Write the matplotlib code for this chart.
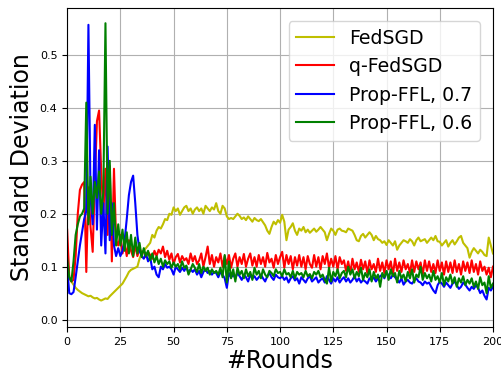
import numpy as np
import matplotlib
matplotlib.use("Agg")
import matplotlib.pyplot as plt

# values, one per round (0..200)
fedsgd = [
    0.090, 0.080, 0.072, 0.066, 0.060, 0.056, 0.053, 0.050, 0.048, 0.046,
    0.044, 0.045, 0.042, 0.040, 0.041, 0.038, 0.036, 0.038, 0.040, 0.039,
    0.044, 0.048, 0.052, 0.056, 0.060, 0.064, 0.068, 0.075, 0.082, 0.090,
    0.094, 0.096, 0.098, 0.100, 0.115, 0.125, 0.130, 0.135, 0.140, 0.145,
    0.160, 0.155, 0.168, 0.175, 0.172, 0.180, 0.190, 0.188, 0.200, 0.198,
    0.212, 0.205, 0.210, 0.198, 0.205, 0.212, 0.215, 0.205, 0.210, 0.200,
    0.208, 0.212, 0.205, 0.210, 0.200, 0.215, 0.210, 0.205, 0.212, 0.208,
    0.220, 0.205, 0.200, 0.215, 0.210, 0.195, 0.190, 0.192, 0.190, 0.195,
    0.200, 0.196, 0.190, 0.193, 0.188, 0.195, 0.190, 0.185, 0.192, 0.188,
    0.186, 0.190, 0.184, 0.178, 0.168, 0.162, 0.175, 0.185, 0.180, 0.188,
    0.183, 0.198, 0.185, 0.150, 0.170, 0.175, 0.182, 0.168, 0.160, 0.172,
    0.168, 0.175, 0.165, 0.170, 0.164, 0.168, 0.172, 0.166, 0.170, 0.175,
    0.170, 0.165, 0.150, 0.162, 0.172, 0.168, 0.160, 0.170, 0.172, 0.168,
    0.167, 0.165, 0.172, 0.170, 0.168, 0.160, 0.150, 0.148, 0.158, 0.162,
    0.155, 0.160, 0.165, 0.160, 0.150, 0.158, 0.152, 0.150, 0.145, 0.148,
    0.141, 0.150, 0.145, 0.140, 0.148, 0.132, 0.140, 0.145, 0.150, 0.148,
    0.145, 0.152, 0.148, 0.140, 0.150, 0.155, 0.148, 0.150, 0.152, 0.145,
    0.150, 0.155, 0.150, 0.158, 0.148, 0.147, 0.140, 0.145, 0.150, 0.138,
    0.145, 0.150, 0.142, 0.148, 0.155, 0.158, 0.145, 0.140, 0.135, 0.117,
    0.128, 0.135, 0.130, 0.125, 0.132, 0.128, 0.122, 0.120, 0.155, 0.140,
    0.125,
]

qfedsgd = [
    0.170, 0.080, 0.072, 0.075, 0.120, 0.200, 0.245, 0.255, 0.260, 0.090,
    0.250, 0.175, 0.128, 0.260, 0.375, 0.395, 0.280, 0.200, 0.285, 0.160,
    0.290, 0.110, 0.285, 0.150, 0.140, 0.160, 0.125, 0.145, 0.120, 0.150,
    0.130, 0.118, 0.140, 0.120, 0.135, 0.125, 0.130, 0.118, 0.128, 0.122,
    0.115, 0.130, 0.120, 0.132, 0.125, 0.138, 0.118, 0.130, 0.113, 0.125,
    0.105, 0.118, 0.124, 0.108, 0.120, 0.112, 0.116, 0.105, 0.125, 0.110,
    0.120, 0.105, 0.112, 0.125, 0.100, 0.118, 0.138, 0.105, 0.122, 0.100,
    0.118, 0.108, 0.125, 0.100, 0.120, 0.105, 0.122, 0.098, 0.115, 0.125,
    0.100, 0.118, 0.105, 0.124, 0.100, 0.115, 0.125, 0.102, 0.118, 0.100,
    0.122, 0.105, 0.118, 0.100, 0.126, 0.108, 0.115, 0.098, 0.122, 0.105,
    0.118, 0.128, 0.098, 0.122, 0.105, 0.120, 0.095, 0.118, 0.102, 0.122,
    0.100, 0.118, 0.095, 0.120, 0.105, 0.098, 0.122, 0.100, 0.118, 0.095,
    0.120, 0.105, 0.125, 0.098, 0.115, 0.100, 0.120, 0.095, 0.118, 0.105,
    0.112, 0.092, 0.110, 0.088, 0.115, 0.095, 0.108, 0.090, 0.113, 0.095,
    0.110, 0.088, 0.112, 0.095, 0.105, 0.090, 0.115, 0.092, 0.108, 0.088,
    0.112, 0.095, 0.110, 0.085, 0.115, 0.092, 0.108, 0.090, 0.112, 0.095,
    0.105, 0.088, 0.112, 0.090, 0.110, 0.095, 0.108, 0.085, 0.112, 0.092,
    0.110, 0.090, 0.105, 0.088, 0.112, 0.092, 0.108, 0.085, 0.110, 0.090,
    0.108, 0.088, 0.112, 0.090, 0.105, 0.085, 0.110, 0.092, 0.108, 0.088,
    0.112, 0.090, 0.105, 0.085, 0.110, 0.092, 0.100, 0.085, 0.098, 0.080,
    0.100,
]

prop_07 = [
    0.100, 0.050, 0.048, 0.052, 0.080, 0.110, 0.140, 0.165, 0.190, 0.205,
    0.557, 0.230, 0.180, 0.368, 0.170, 0.320, 0.140, 0.220, 0.125, 0.327,
    0.150, 0.220, 0.140, 0.120, 0.135, 0.120, 0.130, 0.150, 0.190, 0.235,
    0.260, 0.272, 0.220, 0.160, 0.130, 0.120, 0.115, 0.125, 0.110, 0.118,
    0.095, 0.100, 0.085, 0.080, 0.100, 0.095, 0.105, 0.098, 0.100, 0.095,
    0.085, 0.100, 0.095, 0.090, 0.098, 0.092, 0.100, 0.088, 0.095, 0.090,
    0.095, 0.085, 0.092, 0.080, 0.090, 0.095, 0.088, 0.092, 0.085, 0.090,
    0.088, 0.080, 0.090, 0.085, 0.078, 0.060, 0.088, 0.080, 0.085, 0.078,
    0.088, 0.082, 0.075, 0.085, 0.080, 0.072, 0.085, 0.078, 0.082, 0.075,
    0.080, 0.085, 0.078, 0.072, 0.082, 0.088, 0.080, 0.075, 0.085, 0.080,
    0.078, 0.082, 0.075, 0.080, 0.070, 0.078, 0.082, 0.074, 0.078, 0.068,
    0.080, 0.075, 0.070, 0.078, 0.082, 0.072, 0.076, 0.080, 0.070, 0.075,
    0.078, 0.070, 0.082, 0.075, 0.068, 0.078, 0.072, 0.080, 0.070, 0.076,
    0.080, 0.072, 0.078, 0.070, 0.075, 0.082, 0.072, 0.078, 0.070, 0.075,
    0.072, 0.068, 0.078, 0.075, 0.080, 0.072, 0.078, 0.082, 0.085, 0.078,
    0.090, 0.082, 0.078, 0.085, 0.080, 0.075, 0.070, 0.078, 0.066, 0.072,
    0.075, 0.070, 0.068, 0.074, 0.078, 0.072, 0.070, 0.065, 0.072, 0.068,
    0.070, 0.062, 0.055, 0.050, 0.065, 0.072, 0.068, 0.062, 0.070, 0.065,
    0.060, 0.068, 0.072, 0.065, 0.058, 0.062, 0.070, 0.066, 0.060, 0.055,
    0.062, 0.058, 0.065, 0.060, 0.050, 0.055, 0.045, 0.038, 0.060, 0.055,
    0.062,
]

prop_06 = [
    0.115, 0.080, 0.072, 0.110, 0.160, 0.180, 0.195, 0.200, 0.210, 0.410,
    0.180, 0.270, 0.200, 0.260, 0.230, 0.280, 0.200, 0.240, 0.560, 0.200,
    0.300, 0.160, 0.220, 0.140, 0.180, 0.140, 0.170, 0.130, 0.165, 0.125,
    0.160, 0.120, 0.155, 0.125, 0.145, 0.118, 0.135, 0.120, 0.130, 0.112,
    0.125, 0.108, 0.120, 0.105, 0.115, 0.100, 0.112, 0.105, 0.110, 0.098,
    0.108, 0.100, 0.105, 0.095, 0.110, 0.098, 0.102, 0.085, 0.095, 0.105,
    0.098, 0.090, 0.105, 0.088, 0.100, 0.092, 0.098, 0.085, 0.095, 0.088,
    0.092, 0.085, 0.098, 0.080, 0.122, 0.070, 0.110, 0.078, 0.095, 0.072,
    0.098, 0.085, 0.092, 0.078, 0.095, 0.082, 0.090, 0.075, 0.098, 0.085,
    0.092, 0.078, 0.095, 0.085, 0.080, 0.092, 0.088, 0.082, 0.095, 0.088,
    0.090, 0.082, 0.095, 0.085, 0.088, 0.080, 0.092, 0.078, 0.090, 0.085,
    0.088, 0.080, 0.092, 0.082, 0.086, 0.078, 0.090, 0.085, 0.092, 0.080,
    0.085, 0.075, 0.068, 0.098, 0.072, 0.090, 0.082, 0.095, 0.078, 0.088,
    0.092, 0.080, 0.100, 0.085, 0.095, 0.078, 0.090, 0.082, 0.098, 0.075,
    0.088, 0.080, 0.095, 0.072, 0.090, 0.078, 0.085, 0.062, 0.088, 0.080,
    0.092, 0.075, 0.095, 0.082, 0.088, 0.070, 0.092, 0.078, 0.085, 0.072,
    0.090, 0.078, 0.095, 0.070, 0.085, 0.080, 0.100, 0.075, 0.088, 0.078,
    0.085, 0.072, 0.092, 0.075, 0.082, 0.070, 0.088, 0.065, 0.080, 0.072,
    0.085, 0.068, 0.080, 0.062, 0.078, 0.070, 0.082, 0.065, 0.075, 0.068,
    0.078, 0.062, 0.072, 0.058, 0.080, 0.065, 0.070, 0.050, 0.082, 0.060,
    0.068,
]

rounds = np.arange(len(fedsgd))

fig = plt.figure(figsize=(5.01, 3.75), dpi=100)
ax = fig.add_axes([0.134, 0.128, 0.850, 0.851])

ax.plot(rounds, fedsgd, color='y', lw=1.5, label='FedSGD')
ax.plot(rounds, qfedsgd, color='r', lw=1.5, label='q-FedSGD')
ax.plot(rounds, prop_07, color='b', lw=1.5, label='Prop-FFL, 0.7')
ax.plot(rounds, prop_06, color='g', lw=1.5, label='Prop-FFL, 0.6')

ax.set_xlim(0, 200)
ax.set_ylim(-0.014, 0.589)
ax.set_xticks(np.arange(0, 201, 25))
ax.set_yticks(np.arange(0, 0.51, 0.1))
ax.tick_params(labelsize=8)
ax.grid(True)
ax.set_xlabel('#Rounds', fontsize=17, labelpad=2)
ax.set_ylabel('Standard Deviation', fontsize=17)
ax.legend(loc='upper right', fontsize=13.6, borderaxespad=0.7)

fig.savefig('out.png', dpi=100)
